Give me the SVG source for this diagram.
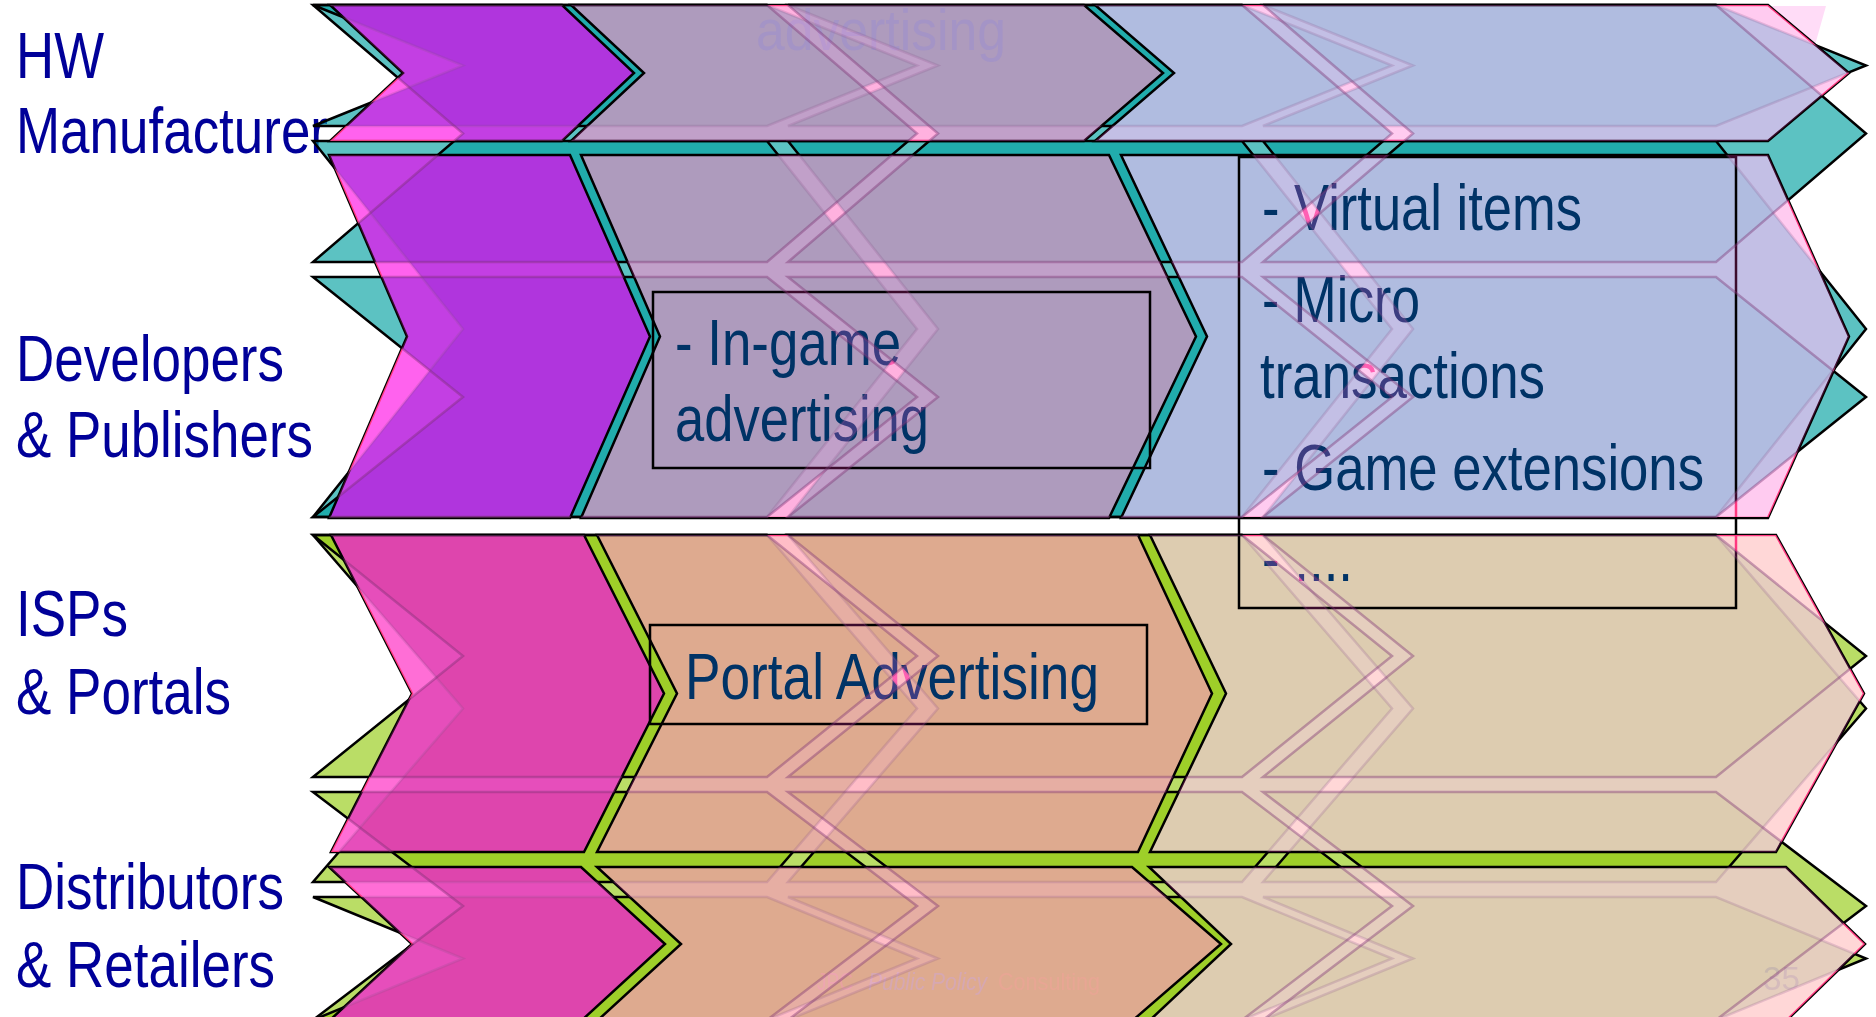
<svg xmlns="http://www.w3.org/2000/svg" xmlns:xlink="http://www.w3.org/1999/xlink" width="1876" height="1017" viewBox="0 0 1876 1017">
<style>
  text{font-family:"Liberation Sans",Arial,sans-serif}
  .lbl{font-size:65px;fill:#000099}
  .bt{font-size:65px;fill:#003366}
  .chev{stroke:#000;stroke-width:2.5;stroke-linejoin:miter}
  .c-purple{fill:#B035DD}
  .c-mauve{fill:#AE9BBD}
  .c-blue{fill:#B0BCE0}
  .c-pink{fill:#DE45AD}
  .c-salmon{fill:#DEAA8F}
  .c-tan{fill:#DDCCB0}
  .box{fill:none;stroke:#000;stroke-width:2.5}
  .teal{fill:#00A0A0;fill-opacity:.64}
  .lime{fill:#8CC600;fill-opacity:.6}
  .edge{fill:none;stroke:#000;stroke-width:2.5}
  .lineS{fill:none;stroke:#7A3070;stroke-opacity:.4;stroke-width:2.5}
  .lineF{fill:none;stroke:#8A5088;stroke-opacity:.22;stroke-width:2.5}
</style>
<defs>
  <!-- backdrop chevron sets: F = first set, S = second set; t = upper block, b = lower block -->
  <path id="cFt" d="M313,5L767,5L917,65.5L767,126L313,126L463,65.5Z M788,5L1242,5L1392,65.5L1242,126L788,126L938,65.5Z M1263,5L1716,5L1866,65.5L1716,126L1263,126L1413,65.5Z M313,141L767,141L917,329L767,517L313,517L463,329Z M788,141L1242,141L1392,329L1242,517L788,517L938,329Z M1263,141L1716,141L1866,329L1716,517L1263,517L1413,329Z"/>
  <path id="cSt" d="M313,5L767,5L917,133.5L767,262L313,262L463,133.5Z M788,5L1242,5L1392,133.5L1242,262L788,262L938,133.5Z M1263,5L1716,5L1866,133.5L1716,262L1263,262L1413,133.5Z M313,277L767,277L917,397L767,517L313,517L463,397Z M788,277L1242,277L1392,397L1242,517L788,517L938,397Z M1263,277L1716,277L1866,397L1716,517L1263,517L1413,397Z"/>
  <path id="cFb" d="M313,535L767,535L917,708.5L767,882L313,882L463,708.5Z M788,535L1242,535L1392,708.5L1242,882L788,882L938,708.5Z M1263,535L1716,535L1866,708.5L1716,882L1263,882L1413,708.5Z M313,897L767,897L917,958.5L767,1020L313,1020L463,958.5Z M788,897L1242,897L1392,958.5L1242,1020L788,1020L938,958.5Z M1263,897L1716,897L1866,958.5L1716,1020L1263,1020L1413,958.5Z"/>
  <path id="cSb" d="M313,535L767,535L917,656L767,777L313,777L463,656Z M788,535L1242,535L1392,656L1242,777L788,777L938,656Z M1263,535L1716,535L1866,656L1716,777L1263,777L1413,656Z M313,792L767,792L917,906L767,1020L313,1020L463,906Z M788,792L1242,792L1392,906L1242,1020L788,1020L938,906Z M1263,792L1716,792L1866,906L1716,1020L1263,1020L1413,906Z"/>
  <path id="blocks" d="M313,5H1876V517H313Z M313,535H1876V1020H313Z"/>

  <mask id="mF" maskUnits="userSpaceOnUse" x="0" y="0" width="1876" height="1017">
    <use href="#blocks" fill="#fff"/>
    <use href="#cFt" fill="#000"/><use href="#cFb" fill="#000"/>
  </mask>
  <mask id="mS" maskUnits="userSpaceOnUse" x="0" y="0" width="1876" height="1017">
    <use href="#blocks" fill="#fff"/>
    <use href="#cSt" fill="#000"/><use href="#cSb" fill="#000"/>
  </mask>
  <mask id="mFS" maskUnits="userSpaceOnUse" x="0" y="0" width="1876" height="1017">
    <use href="#blocks" fill="#fff"/>
    <use href="#cFt" fill="#000"/><use href="#cFb" fill="#000"/>
    <use href="#cSt" fill="#000"/><use href="#cSb" fill="#000"/>
  </mask>
  <clipPath id="cm">
    <use href="#A1"/><use href="#A2"/><use href="#A3"/>
    <use href="#B1"/><use href="#B2"/><use href="#B3"/>
    <use href="#C1"/><use href="#C2"/><use href="#C3"/>
    <use href="#D1"/><use href="#D2"/><use href="#D3"/>
  </clipPath>
</defs>

<rect width="1876" height="1017" fill="#fff"/>

<!-- row labels -->
<g id="labels">
  <g id="label-hw"><text class="lbl" x="16" y="78" textLength="88" lengthAdjust="spacingAndGlyphs">HW</text><text class="lbl" x="16" y="153" textLength="312" lengthAdjust="spacingAndGlyphs">Manufacturer</text></g>
  <g id="label-dev"><text class="lbl" x="16" y="381" textLength="268" lengthAdjust="spacingAndGlyphs">Developers</text><text class="lbl" x="16" y="457" textLength="297" lengthAdjust="spacingAndGlyphs">&amp; Publishers</text></g>
  <g id="label-isp"><text class="lbl" x="16" y="636" textLength="112" lengthAdjust="spacingAndGlyphs">ISPs</text><text class="lbl" x="16" y="714" textLength="215" lengthAdjust="spacingAndGlyphs">&amp; Portals</text></g>
  <g id="label-dist"><text class="lbl" x="16" y="909" textLength="268" lengthAdjust="spacingAndGlyphs">Distributors</text><text class="lbl" x="16" y="987" textLength="259" lengthAdjust="spacingAndGlyphs">&amp; Retailers</text></g>
</g>

<!-- backdrop chevrons (teal upper block, lime lower block) -->
<g id="backdrop">
  <use href="#cFt" class="teal"/><use href="#cSt" class="teal"/>
  <use href="#cFb" class="lime"/><use href="#cSb" class="lime"/>
  <use href="#cFt" class="edge"/><use href="#cSt" class="edge"/>
  <use href="#cFb" class="edge"/><use href="#cSb" class="edge"/>
  <!-- pale corner beyond the top-right arrow tip -->
  <polygon points="1769,6 1826,6 1815,45" fill="#FFDCF7"/>
</g>

<!-- value chain chevrons -->
<g id="chevrons">
  <g id="node-hw-1"><polygon id="A1" class="chev c-purple" points="330,5 562,5 634,73 562,141 330,141 403,73"/></g>
  <g id="node-hw-2"><polygon id="A2" class="chev c-mauve" points="571,5 1084,5 1163,73 1084,141 571,141 644,73"/></g>
  <g id="node-hw-3"><polygon id="A3" class="chev c-blue" points="1095,5 1768,5 1849,73 1768,141 1095,141 1174,73"/></g>
  <g id="node-dev-1"><polygon id="B1" class="chev c-purple" points="329,155 570,155 650,336.5 570,518 329,518 407,336.5"/></g>
  <g id="node-dev-2"><polygon id="B2" class="chev c-mauve" points="581,155 1109,155 1196,336.5 1109,518 581,518 660,336.5"/></g>
  <g id="node-dev-3"><polygon id="B3" class="chev c-blue" points="1121,155 1768,155 1849,336.5 1768,518 1121,518 1207,336.5"/></g>
  <g id="node-isp-1"><polygon id="C1" class="chev c-pink" points="331,535 584,535 664,693.5 584,852 331,852 412,693.5"/></g>
  <g id="node-isp-2"><polygon id="C2" class="chev c-salmon" points="597,535 1138,535 1212,693.5 1138,852 597,852 677,693.5"/></g>
  <g id="node-isp-3"><polygon id="C3" class="chev c-tan" points="1150,535 1776,535 1864,693.5 1776,852 1150,852 1226,693.5"/></g>
  <g id="node-dist-1"><polygon id="D1" class="chev c-pink" points="329,867 581,867 665,944 581,1021 329,1021 412,944"/></g>
  <g id="node-dist-2"><polygon id="D2" class="chev c-salmon" points="597,867 1132,867 1221,944 1132,1021 597,1021 681,944"/></g>
  <g id="node-dist-3"><polygon id="D3" class="chev c-tan" points="1149,867 1786,867 1865,944 1786,1021 1149,1021 1231,944"/></g>
</g>

<g id="connectors"></g>

<!-- faint slide texts -->
<g id="faint-text">
  <text x="756" y="50" font-size="58" textLength="250" lengthAdjust="spacingAndGlyphs" fill="#A494C6">advertising</text>
  <text x="817" y="990" font-size="24" textLength="36" lengthAdjust="spacingAndGlyphs" fill="#E8A2A0">JPC</text>
  <text x="868" y="990" font-size="24" font-style="italic" textLength="119" lengthAdjust="spacingAndGlyphs" fill="#D6A8B2">Public Policy</text>
  <text x="998" y="990" font-size="24" textLength="102" lengthAdjust="spacingAndGlyphs" fill="#E8A694">Consulting</text>
  <text x="1763" y="990" font-size="34" textLength="37" lengthAdjust="spacingAndGlyphs" fill="#C8B8AE">35</text>
</g>

<!-- revenue boxes -->
<g id="box-ingame">
  <rect class="box" x="653" y="292" width="497" height="176"/>
  <text class="bt" x="675" y="365" textLength="226" lengthAdjust="spacingAndGlyphs">- In-game</text>
  <text class="bt" x="675" y="441" textLength="254" lengthAdjust="spacingAndGlyphs">advertising</text>
</g>
<g id="box-virtual">
  <rect class="box" x="1239" y="157" width="497" height="451"/>
  <text class="bt" x="1262" y="230" textLength="320" lengthAdjust="spacingAndGlyphs">- Virtual items</text>
  <text class="bt" x="1262" y="322" textLength="158" lengthAdjust="spacingAndGlyphs">- Micro</text>
  <text class="bt" x="1260" y="398" textLength="285" lengthAdjust="spacingAndGlyphs">transactions</text>
  <text class="bt" x="1262" y="490" textLength="442" lengthAdjust="spacingAndGlyphs">- Game extensions</text>
  <text class="bt" x="1262" y="581" textLength="91" lengthAdjust="spacingAndGlyphs">- ....</text>
</g>
<g id="box-portal">
  <rect class="box" x="650" y="625" width="497" height="99"/>
  <text class="bt" x="685" y="699" textLength="414" lengthAdjust="spacingAndGlyphs">Portal Advertising</text>
</g>

<!-- light overlay of the backdrop gaps -->
<g id="overlay">
  <rect x="0" y="0" width="1876" height="1017" fill="rgb(60,12,45)" mask="url(#mF)" clip-path="url(#cm)" style="mix-blend-mode:screen"/>
  <rect x="0" y="0" width="1876" height="1017" fill="rgb(60,12,45)" mask="url(#mS)" clip-path="url(#cm)" style="mix-blend-mode:screen"/>
  <rect x="0" y="0" width="1876" height="1017" fill="rgb(255,36,68)" mask="url(#mFS)" clip-path="url(#cm)" style="mix-blend-mode:screen"/>
  <g clip-path="url(#cm)">
    <use href="#cFt" class="lineF"/><use href="#cFb" class="lineF"/>
    <use href="#cSt" class="lineS"/><use href="#cSb" class="lineS"/>
  </g>
</g>
</svg>
